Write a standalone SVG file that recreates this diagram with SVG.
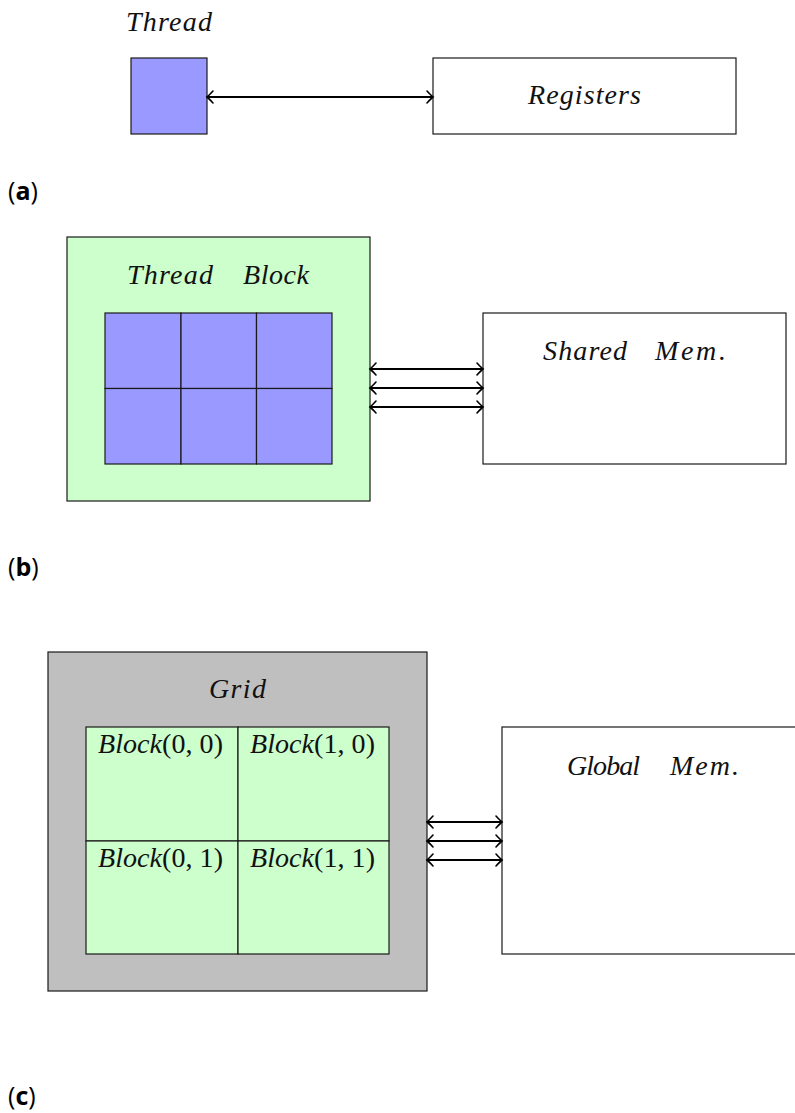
<svg xmlns="http://www.w3.org/2000/svg" width="795" height="1113" viewBox="0 0 795 1113">
  <style>
    .box { stroke: #1a1a1a; stroke-width: 1.2; }
    .thread { fill: #9999ff; }
    .block { fill: #ccffcc; }
    .grid { fill: #bfbfbf; }
    .mem { fill: #ffffff; }
    .math { font-family: "Liberation Serif", "Times New Roman", serif; font-style: italic; font-size: 28px; fill: #111; }
    .up { font-style: normal; }
    .link { stroke: #000; stroke-width: 1.8; fill: none; marker-start: url(#tip); marker-end: url(#tip); }
    .cap { font-family: "Open Sans", "Noto Sans", sans-serif; font-size: 25px; fill: #000; }
    .cap tspan.b { font-weight: bold; }
  </style>
  <defs>
    <marker id="tip" markerUnits="userSpaceOnUse" markerWidth="16" markerHeight="16" viewBox="-9 -8 11 16" refX="0" refY="0" orient="auto-start-reverse">
      <path d="M -6,-6 Q -1.8,-1.4 0,0 Q -1.8,1.4 -6,6" fill="none" stroke="#000" stroke-width="1.6" stroke-linecap="round"/>
    </marker>
  </defs>

  <!-- (a) thread and its registers -->
  <g id="thread-a">
    <rect class="box thread" x="131" y="58" width="76" height="76"/>
    <text class="math" x="126" y="31" textLength="86" lengthAdjust="spacing">Thread</text>
  </g>
  <g id="registers">
    <rect class="box mem" x="433" y="58" width="303" height="76"/>
    <text class="math" x="528" y="104" textLength="113" lengthAdjust="spacing">Registers</text>
  </g>
  <text class="cap" x="8" y="200">(<tspan class="b">a</tspan>)</text>

  <!-- (b) thread block and shared memory -->
  <g id="thread-block">
    <rect class="box block" x="67" y="237" width="303" height="264"/>
    <text class="math" x="127" y="284" textLength="86" lengthAdjust="spacing">Thread</text>
    <text class="math" x="243" y="284" textLength="66" lengthAdjust="spacing">Block</text>
    <g id="threads">
      <rect class="box thread" x="105" y="313" width="76" height="75.5"/>
      <rect class="box thread" x="181" y="313" width="75.5" height="75.5"/>
      <rect class="box thread" x="256.5" y="313" width="75.5" height="75.5"/>
      <rect class="box thread" x="105" y="388.5" width="76" height="75.5"/>
      <rect class="box thread" x="181" y="388.5" width="75.5" height="75.5"/>
      <rect class="box thread" x="256.5" y="388.5" width="75.5" height="75.5"/>
    </g>
  </g>
  <g id="shared-mem">
    <rect class="box mem" x="483" y="313" width="303" height="151"/>
    <text class="math" x="543" y="360" textLength="84" lengthAdjust="spacing">Shared</text>
    <text class="math" x="655" y="360" textLength="71" lengthAdjust="spacing">Mem.</text>
  </g>
  <text class="cap" x="8" y="576">(<tspan class="b">b</tspan>)</text>

  <!-- (c) grid of blocks and global memory -->
  <g id="grid">
    <rect class="box grid" x="48" y="652" width="379" height="339"/>
    <text class="math" x="209" y="698" textLength="57" lengthAdjust="spacing">Grid</text>
    <g id="block-00">
      <rect class="box block" x="86" y="727" width="152" height="114"/>
      <text class="math" x="98" y="753" textLength="125" lengthAdjust="spacing"><tspan>Block</tspan><tspan class="up">(0, 0)</tspan></text>
    </g>
    <g id="block-10">
      <rect class="box block" x="238" y="727" width="151" height="114"/>
      <text class="math" x="250" y="753" textLength="125" lengthAdjust="spacing"><tspan>Block</tspan><tspan class="up">(1, 0)</tspan></text>
    </g>
    <g id="block-01">
      <rect class="box block" x="86" y="841" width="152" height="113"/>
      <text class="math" x="98" y="867" textLength="125" lengthAdjust="spacing"><tspan>Block</tspan><tspan class="up">(0, 1)</tspan></text>
    </g>
    <g id="block-11">
      <rect class="box block" x="238" y="841" width="151" height="113"/>
      <text class="math" x="250" y="867" textLength="125" lengthAdjust="spacing"><tspan>Block</tspan><tspan class="up">(1, 1)</tspan></text>
    </g>
  </g>
  <g id="global-mem">
    <rect class="box mem" x="502" y="727" width="310" height="227"/>
    <text class="math" x="567" y="775" textLength="73" lengthAdjust="spacing">Global</text>
    <text class="math" x="670" y="775" textLength="69" lengthAdjust="spacing">Mem.</text>
  </g>
  <text class="cap" x="8" y="1105">(<tspan class="b">c</tspan>)</text>

  <!-- two-way data paths -->
  <g id="connectors">
    <line class="link" x1="207" y1="97" x2="433" y2="97"/>
    <line class="link" x1="370" y1="369" x2="483" y2="369"/>
    <line class="link" x1="370" y1="388" x2="483" y2="388"/>
    <line class="link" x1="370" y1="407" x2="483" y2="407"/>
    <line class="link" x1="427" y1="822" x2="502" y2="822"/>
    <line class="link" x1="427" y1="841" x2="502" y2="841"/>
    <line class="link" x1="427" y1="860" x2="502" y2="860"/>
  </g>
</svg>
